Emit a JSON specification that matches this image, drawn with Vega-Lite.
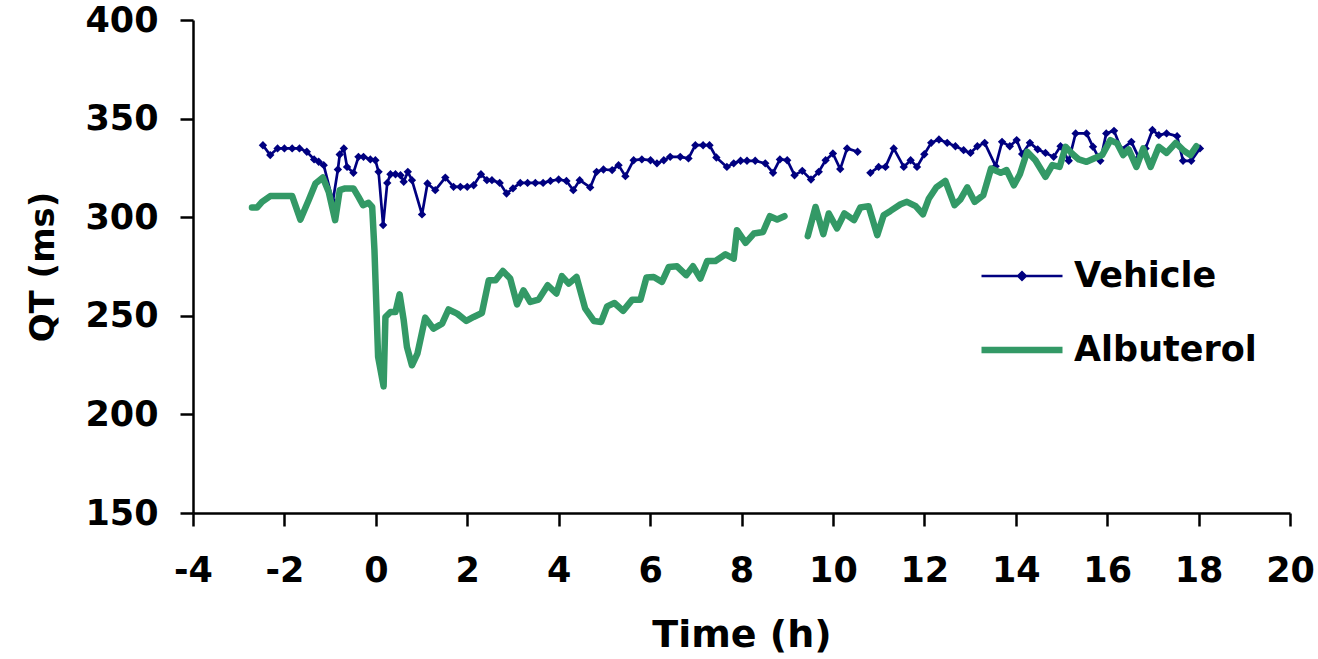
{
  "$schema": "https://vega.github.io/schema/vega-lite/v6.json",
  "autosize": "none",
  "width": 1097,
  "height": 493,
  "padding": {"left": 193, "top": 20, "right": 28, "bottom": 146},
  "background": "white",
  "config": {
    "view": {"stroke": null},
    "axis": {
      "grid": false,
      "domainColor": "black",
      "domainWidth": 2.5,
      "tickColor": "black",
      "tickWidth": 2.5,
      "tickSize": 13,
      "labelFont": "DejaVu Sans",
      "labelFontWeight": "bold",
      "labelFontSize": 35,
      "labelColor": "black",
      "titleFont": "DejaVu Sans",
      "titleFontWeight": "bold",
      "titleColor": "black"
    },
    "legend": {
      "labelFont": "DejaVu Sans",
      "labelFontWeight": "bold",
      "labelFontSize": 35,
      "labelColor": "black",
      "labelLimit": 500
    }
  },
  "datasets": {
    "qt": [
      {"t": -2.47, "qt": 336.5, "s": "Vehicle", "g": "V1"},
      {"t": -2.31, "qt": 331.5, "s": "Vehicle", "g": "V1"},
      {"t": -2.15, "qt": 334.9, "s": "Vehicle", "g": "V1"},
      {"t": -2.0, "qt": 334.9, "s": "Vehicle", "g": "V1"},
      {"t": -1.83, "qt": 334.9, "s": "Vehicle", "g": "V1"},
      {"t": -1.67, "qt": 334.9, "s": "Vehicle", "g": "V1"},
      {"t": -1.51, "qt": 333.2, "s": "Vehicle", "g": "V1"},
      {"t": -1.35, "qt": 329.3, "s": "Vehicle", "g": "V1"},
      {"t": -1.25, "qt": 328.1, "s": "Vehicle", "g": "V1"},
      {"t": -1.14, "qt": 326.4, "s": "Vehicle", "g": "V1"},
      {"t": -0.94, "qt": 308.1, "s": "Vehicle", "g": "V1"},
      {"t": -0.83, "qt": 324.2, "s": "Vehicle", "g": "V1"},
      {"t": -0.79, "qt": 331.8, "s": "Vehicle", "g": "V1"},
      {"t": -0.7, "qt": 334.9, "s": "Vehicle", "g": "V1"},
      {"t": -0.63, "qt": 325.5, "s": "Vehicle", "g": "V1"},
      {"t": -0.49, "qt": 322.5, "s": "Vehicle", "g": "V1"},
      {"t": -0.38, "qt": 330.6, "s": "Vehicle", "g": "V1"},
      {"t": -0.27, "qt": 330.6, "s": "Vehicle", "g": "V1"},
      {"t": -0.12, "qt": 329.3, "s": "Vehicle", "g": "V1"},
      {"t": -0.01, "qt": 328.9, "s": "Vehicle", "g": "V1"},
      {"t": 0.06, "qt": 323.0, "s": "Vehicle", "g": "V1"},
      {"t": 0.16, "qt": 296.0, "s": "Vehicle", "g": "V1"},
      {"t": 0.25, "qt": 317.4, "s": "Vehicle", "g": "V1"},
      {"t": 0.32, "qt": 321.8, "s": "Vehicle", "g": "V1"},
      {"t": 0.43, "qt": 321.8, "s": "Vehicle", "g": "V1"},
      {"t": 0.54, "qt": 321.3, "s": "Vehicle", "g": "V1"},
      {"t": 0.61, "qt": 318.0, "s": "Vehicle", "g": "V1"},
      {"t": 0.7, "qt": 323.0, "s": "Vehicle", "g": "V1"},
      {"t": 0.79, "qt": 318.8, "s": "Vehicle", "g": "V1"},
      {"t": 1.01, "qt": 301.4, "s": "Vehicle", "g": "V1"},
      {"t": 1.13, "qt": 317.1, "s": "Vehicle", "g": "V1"},
      {"t": 1.3, "qt": 313.7, "s": "Vehicle", "g": "V1"},
      {"t": 1.52, "qt": 320.1, "s": "Vehicle", "g": "V1"},
      {"t": 1.7, "qt": 315.4, "s": "Vehicle", "g": "V1"},
      {"t": 1.85, "qt": 315.4, "s": "Vehicle", "g": "V1"},
      {"t": 2.0, "qt": 315.4, "s": "Vehicle", "g": "V1"},
      {"t": 2.14, "qt": 316.2, "s": "Vehicle", "g": "V1"},
      {"t": 2.3, "qt": 321.8, "s": "Vehicle", "g": "V1"},
      {"t": 2.43, "qt": 318.8, "s": "Vehicle", "g": "V1"},
      {"t": 2.54, "qt": 318.8, "s": "Vehicle", "g": "V1"},
      {"t": 2.71, "qt": 317.4, "s": "Vehicle", "g": "V1"},
      {"t": 2.86, "qt": 312.0, "s": "Vehicle", "g": "V1"},
      {"t": 3.0, "qt": 314.6, "s": "Vehicle", "g": "V1"},
      {"t": 3.16, "qt": 317.4, "s": "Vehicle", "g": "V1"},
      {"t": 3.32, "qt": 317.4, "s": "Vehicle", "g": "V1"},
      {"t": 3.49, "qt": 317.4, "s": "Vehicle", "g": "V1"},
      {"t": 3.66, "qt": 317.4, "s": "Vehicle", "g": "V1"},
      {"t": 3.82, "qt": 318.4, "s": "Vehicle", "g": "V1"},
      {"t": 4.0, "qt": 319.1, "s": "Vehicle", "g": "V1"},
      {"t": 4.17, "qt": 318.4, "s": "Vehicle", "g": "V1"},
      {"t": 4.32, "qt": 313.7, "s": "Vehicle", "g": "V1"},
      {"t": 4.46, "qt": 318.8, "s": "Vehicle", "g": "V1"},
      {"t": 4.69, "qt": 315.1, "s": "Vehicle", "g": "V1"},
      {"t": 4.83, "qt": 323.0, "s": "Vehicle", "g": "V1"},
      {"t": 4.98, "qt": 324.2, "s": "Vehicle", "g": "V1"},
      {"t": 5.17, "qt": 323.9, "s": "Vehicle", "g": "V1"},
      {"t": 5.31, "qt": 326.4, "s": "Vehicle", "g": "V1"},
      {"t": 5.46, "qt": 320.8, "s": "Vehicle", "g": "V1"},
      {"t": 5.64, "qt": 328.9, "s": "Vehicle", "g": "V1"},
      {"t": 5.82, "qt": 329.3, "s": "Vehicle", "g": "V1"},
      {"t": 6.01, "qt": 328.9, "s": "Vehicle", "g": "V1"},
      {"t": 6.15, "qt": 327.3, "s": "Vehicle", "g": "V1"},
      {"t": 6.3, "qt": 328.9, "s": "Vehicle", "g": "V1"},
      {"t": 6.44, "qt": 330.6, "s": "Vehicle", "g": "V1"},
      {"t": 6.66, "qt": 330.6, "s": "Vehicle", "g": "V1"},
      {"t": 6.84, "qt": 329.8, "s": "Vehicle", "g": "V1"},
      {"t": 6.99, "qt": 336.5, "s": "Vehicle", "g": "V1"},
      {"t": 7.16, "qt": 336.5, "s": "Vehicle", "g": "V1"},
      {"t": 7.3, "qt": 336.5, "s": "Vehicle", "g": "V1"},
      {"t": 7.45, "qt": 330.3, "s": "Vehicle", "g": "V1"},
      {"t": 7.68, "qt": 325.5, "s": "Vehicle", "g": "V1"},
      {"t": 7.83, "qt": 327.3, "s": "Vehicle", "g": "V1"},
      {"t": 7.98, "qt": 328.6, "s": "Vehicle", "g": "V1"},
      {"t": 8.12, "qt": 328.6, "s": "Vehicle", "g": "V1"},
      {"t": 8.3, "qt": 328.6, "s": "Vehicle", "g": "V1"},
      {"t": 8.52, "qt": 327.3, "s": "Vehicle", "g": "V1"},
      {"t": 8.69, "qt": 322.5, "s": "Vehicle", "g": "V1"},
      {"t": 8.84, "qt": 329.3, "s": "Vehicle", "g": "V1"},
      {"t": 9.0, "qt": 328.9, "s": "Vehicle", "g": "V1"},
      {"t": 9.16, "qt": 321.3, "s": "Vehicle", "g": "V1"},
      {"t": 9.33, "qt": 323.5, "s": "Vehicle", "g": "V1"},
      {"t": 9.52, "qt": 319.1, "s": "Vehicle", "g": "V1"},
      {"t": 9.69, "qt": 323.0, "s": "Vehicle", "g": "V1"},
      {"t": 9.84, "qt": 328.9, "s": "Vehicle", "g": "V1"},
      {"t": 10.0, "qt": 332.3, "s": "Vehicle", "g": "V1"},
      {"t": 10.16, "qt": 324.4, "s": "Vehicle", "g": "V1"},
      {"t": 10.31, "qt": 334.9, "s": "Vehicle", "g": "V1"},
      {"t": 10.54, "qt": 333.2, "s": "Vehicle", "g": "V1"},
      {"t": 10.82, "qt": 322.5, "s": "Vehicle", "g": "V2"},
      {"t": 11.0, "qt": 325.5, "s": "Vehicle", "g": "V2"},
      {"t": 11.15, "qt": 325.5, "s": "Vehicle", "g": "V2"},
      {"t": 11.33, "qt": 334.9, "s": "Vehicle", "g": "V2"},
      {"t": 11.55, "qt": 325.5, "s": "Vehicle", "g": "V2"},
      {"t": 11.7, "qt": 328.9, "s": "Vehicle", "g": "V2"},
      {"t": 11.84, "qt": 325.5, "s": "Vehicle", "g": "V2"},
      {"t": 12.0, "qt": 331.9, "s": "Vehicle", "g": "V2"},
      {"t": 12.15, "qt": 337.7, "s": "Vehicle", "g": "V2"},
      {"t": 12.32, "qt": 339.4, "s": "Vehicle", "g": "V2"},
      {"t": 12.5, "qt": 337.7, "s": "Vehicle", "g": "V2"},
      {"t": 12.68, "qt": 336.0, "s": "Vehicle", "g": "V2"},
      {"t": 12.86, "qt": 334.0, "s": "Vehicle", "g": "V2"},
      {"t": 13.01, "qt": 332.6, "s": "Vehicle", "g": "V2"},
      {"t": 13.16, "qt": 336.0, "s": "Vehicle", "g": "V2"},
      {"t": 13.32, "qt": 337.7, "s": "Vehicle", "g": "V2"},
      {"t": 13.56, "qt": 325.9, "s": "Vehicle", "g": "V2"},
      {"t": 13.7, "qt": 338.2, "s": "Vehicle", "g": "V2"},
      {"t": 13.87, "qt": 336.0, "s": "Vehicle", "g": "V2"},
      {"t": 14.02, "qt": 339.1, "s": "Vehicle", "g": "V2"},
      {"t": 14.14, "qt": 332.0, "s": "Vehicle", "g": "V2"},
      {"t": 14.31, "qt": 337.7, "s": "Vehicle", "g": "V2"},
      {"t": 14.48, "qt": 334.4, "s": "Vehicle", "g": "V2"},
      {"t": 14.65, "qt": 332.6, "s": "Vehicle", "g": "V2"},
      {"t": 14.83, "qt": 330.6, "s": "Vehicle", "g": "V2"},
      {"t": 14.98, "qt": 336.0, "s": "Vehicle", "g": "V2"},
      {"t": 15.16, "qt": 328.6, "s": "Vehicle", "g": "V2"},
      {"t": 15.31, "qt": 342.5, "s": "Vehicle", "g": "V2"},
      {"t": 15.55, "qt": 342.5, "s": "Vehicle", "g": "V2"},
      {"t": 15.69, "qt": 335.7, "s": "Vehicle", "g": "V2"},
      {"t": 15.85, "qt": 328.6, "s": "Vehicle", "g": "V2"},
      {"t": 15.98, "qt": 342.5, "s": "Vehicle", "g": "V2"},
      {"t": 16.15, "qt": 343.8, "s": "Vehicle", "g": "V2"},
      {"t": 16.31, "qt": 334.4, "s": "Vehicle", "g": "V2"},
      {"t": 16.53, "qt": 338.2, "s": "Vehicle", "g": "V2"},
      {"t": 16.69, "qt": 330.3, "s": "Vehicle", "g": "V2"},
      {"t": 16.84, "qt": 334.9, "s": "Vehicle", "g": "V2"},
      {"t": 16.99, "qt": 344.2, "s": "Vehicle", "g": "V2"},
      {"t": 17.13, "qt": 341.6, "s": "Vehicle", "g": "V2"},
      {"t": 17.3, "qt": 342.5, "s": "Vehicle", "g": "V2"},
      {"t": 17.53, "qt": 341.1, "s": "Vehicle", "g": "V2"},
      {"t": 17.66, "qt": 328.6, "s": "Vehicle", "g": "V2"},
      {"t": 17.84, "qt": 328.6, "s": "Vehicle", "g": "V2"},
      {"t": 18.03, "qt": 334.9, "s": "Vehicle", "g": "V2"},
      {"t": -2.71, "qt": 304.9, "s": "Albuterol", "g": "A1"},
      {"t": -2.6, "qt": 304.9, "s": "Albuterol", "g": "A1"},
      {"t": -2.49, "qt": 307.8, "s": "Albuterol", "g": "A1"},
      {"t": -2.31, "qt": 310.7, "s": "Albuterol", "g": "A1"},
      {"t": -2.16, "qt": 310.7, "s": "Albuterol", "g": "A1"},
      {"t": -1.98, "qt": 310.7, "s": "Albuterol", "g": "A1"},
      {"t": -1.83, "qt": 310.7, "s": "Albuterol", "g": "A1"},
      {"t": -1.65, "qt": 298.8, "s": "Albuterol", "g": "A1"},
      {"t": -1.47, "qt": 308.6, "s": "Albuterol", "g": "A1"},
      {"t": -1.32, "qt": 317.1, "s": "Albuterol", "g": "A1"},
      {"t": -1.16, "qt": 320.1, "s": "Albuterol", "g": "A1"},
      {"t": -1.03, "qt": 312.8, "s": "Albuterol", "g": "A1"},
      {"t": -0.89, "qt": 298.5, "s": "Albuterol", "g": "A1"},
      {"t": -0.79, "qt": 313.7, "s": "Albuterol", "g": "A1"},
      {"t": -0.67, "qt": 314.6, "s": "Albuterol", "g": "A1"},
      {"t": -0.49, "qt": 314.6, "s": "Albuterol", "g": "A1"},
      {"t": -0.38, "qt": 310.3, "s": "Albuterol", "g": "A1"},
      {"t": -0.28, "qt": 306.1, "s": "Albuterol", "g": "A1"},
      {"t": -0.16, "qt": 307.3, "s": "Albuterol", "g": "A1"},
      {"t": -0.08, "qt": 305.2, "s": "Albuterol", "g": "A1"},
      {"t": -0.03, "qt": 283.2, "s": "Albuterol", "g": "A1"},
      {"t": 0.05, "qt": 229.1, "s": "Albuterol", "g": "A1"},
      {"t": 0.17, "qt": 214.2, "s": "Albuterol", "g": "A1"},
      {"t": 0.21, "qt": 249.4, "s": "Albuterol", "g": "A1"},
      {"t": 0.32, "qt": 251.9, "s": "Albuterol", "g": "A1"},
      {"t": 0.43, "qt": 251.9, "s": "Albuterol", "g": "A1"},
      {"t": 0.52, "qt": 260.9, "s": "Albuterol", "g": "A1"},
      {"t": 0.61, "qt": 247.7, "s": "Albuterol", "g": "A1"},
      {"t": 0.68, "qt": 234.2, "s": "Albuterol", "g": "A1"},
      {"t": 0.79, "qt": 224.9, "s": "Albuterol", "g": "A1"},
      {"t": 0.91, "qt": 230.8, "s": "Albuterol", "g": "A1"},
      {"t": 1.08, "qt": 249.1, "s": "Albuterol", "g": "A1"},
      {"t": 1.26, "qt": 243.5, "s": "Albuterol", "g": "A1"},
      {"t": 1.45, "qt": 246.0, "s": "Albuterol", "g": "A1"},
      {"t": 1.59, "qt": 253.2, "s": "Albuterol", "g": "A1"},
      {"t": 1.78, "qt": 251.1, "s": "Albuterol", "g": "A1"},
      {"t": 1.98, "qt": 247.4, "s": "Albuterol", "g": "A1"},
      {"t": 2.14, "qt": 249.4, "s": "Albuterol", "g": "A1"},
      {"t": 2.32, "qt": 251.4, "s": "Albuterol", "g": "A1"},
      {"t": 2.47, "qt": 268.0, "s": "Albuterol", "g": "A1"},
      {"t": 2.62, "qt": 268.0, "s": "Albuterol", "g": "A1"},
      {"t": 2.78, "qt": 272.7, "s": "Albuterol", "g": "A1"},
      {"t": 2.94, "qt": 268.9, "s": "Albuterol", "g": "A1"},
      {"t": 3.09, "qt": 255.8, "s": "Albuterol", "g": "A1"},
      {"t": 3.23, "qt": 262.9, "s": "Albuterol", "g": "A1"},
      {"t": 3.38, "qt": 257.0, "s": "Albuterol", "g": "A1"},
      {"t": 3.56, "qt": 258.2, "s": "Albuterol", "g": "A1"},
      {"t": 3.76, "qt": 265.5, "s": "Albuterol", "g": "A1"},
      {"t": 3.95, "qt": 261.3, "s": "Albuterol", "g": "A1"},
      {"t": 4.07, "qt": 270.1, "s": "Albuterol", "g": "A1"},
      {"t": 4.22, "qt": 266.3, "s": "Albuterol", "g": "A1"},
      {"t": 4.39, "qt": 269.7, "s": "Albuterol", "g": "A1"},
      {"t": 4.58, "qt": 253.7, "s": "Albuterol", "g": "A1"},
      {"t": 4.77, "qt": 247.4, "s": "Albuterol", "g": "A1"},
      {"t": 4.93, "qt": 246.9, "s": "Albuterol", "g": "A1"},
      {"t": 5.06, "qt": 254.8, "s": "Albuterol", "g": "A1"},
      {"t": 5.22, "qt": 256.5, "s": "Albuterol", "g": "A1"},
      {"t": 5.41, "qt": 252.5, "s": "Albuterol", "g": "A1"},
      {"t": 5.61, "qt": 258.2, "s": "Albuterol", "g": "A1"},
      {"t": 5.79, "qt": 258.2, "s": "Albuterol", "g": "A1"},
      {"t": 5.92, "qt": 269.4, "s": "Albuterol", "g": "A1"},
      {"t": 6.08, "qt": 269.7, "s": "Albuterol", "g": "A1"},
      {"t": 6.26, "qt": 267.2, "s": "Albuterol", "g": "A1"},
      {"t": 6.41, "qt": 274.8, "s": "Albuterol", "g": "A1"},
      {"t": 6.59, "qt": 275.1, "s": "Albuterol", "g": "A1"},
      {"t": 6.79, "qt": 270.6, "s": "Albuterol", "g": "A1"},
      {"t": 6.94, "qt": 275.1, "s": "Albuterol", "g": "A1"},
      {"t": 7.1, "qt": 268.9, "s": "Albuterol", "g": "A1"},
      {"t": 7.25, "qt": 277.8, "s": "Albuterol", "g": "A1"},
      {"t": 7.43, "qt": 277.8, "s": "Albuterol", "g": "A1"},
      {"t": 7.65, "qt": 281.2, "s": "Albuterol", "g": "A1"},
      {"t": 7.83, "qt": 279.0, "s": "Albuterol", "g": "A1"},
      {"t": 7.9, "qt": 293.4, "s": "Albuterol", "g": "A1"},
      {"t": 8.09, "qt": 287.0, "s": "Albuterol", "g": "A1"},
      {"t": 8.27, "qt": 291.7, "s": "Albuterol", "g": "A1"},
      {"t": 8.47, "qt": 292.5, "s": "Albuterol", "g": "A1"},
      {"t": 8.62, "qt": 300.5, "s": "Albuterol", "g": "A1"},
      {"t": 8.78, "qt": 298.8, "s": "Albuterol", "g": "A1"},
      {"t": 8.94, "qt": 300.5, "s": "Albuterol", "g": "A1"},
      {"t": 9.45, "qt": 290.4, "s": "Albuterol", "g": "A2"},
      {"t": 9.62, "qt": 305.2, "s": "Albuterol", "g": "A2"},
      {"t": 9.79, "qt": 291.4, "s": "Albuterol", "g": "A2"},
      {"t": 9.91, "qt": 301.9, "s": "Albuterol", "g": "A2"},
      {"t": 10.09, "qt": 294.3, "s": "Albuterol", "g": "A2"},
      {"t": 10.25, "qt": 301.9, "s": "Albuterol", "g": "A2"},
      {"t": 10.46, "qt": 298.5, "s": "Albuterol", "g": "A2"},
      {"t": 10.6, "qt": 304.9, "s": "Albuterol", "g": "A2"},
      {"t": 10.78, "qt": 305.6, "s": "Albuterol", "g": "A2"},
      {"t": 10.97, "qt": 290.9, "s": "Albuterol", "g": "A2"},
      {"t": 11.11, "qt": 301.0, "s": "Albuterol", "g": "A2"},
      {"t": 11.26, "qt": 303.2, "s": "Albuterol", "g": "A2"},
      {"t": 11.48, "qt": 306.6, "s": "Albuterol", "g": "A2"},
      {"t": 11.62, "qt": 307.8, "s": "Albuterol", "g": "A2"},
      {"t": 11.81, "qt": 305.6, "s": "Albuterol", "g": "A2"},
      {"t": 11.97, "qt": 301.5, "s": "Albuterol", "g": "A2"},
      {"t": 12.1, "qt": 309.5, "s": "Albuterol", "g": "A2"},
      {"t": 12.26, "qt": 315.1, "s": "Albuterol", "g": "A2"},
      {"t": 12.46, "qt": 318.4, "s": "Albuterol", "g": "A2"},
      {"t": 12.66, "qt": 306.1, "s": "Albuterol", "g": "A2"},
      {"t": 12.79, "qt": 309.0, "s": "Albuterol", "g": "A2"},
      {"t": 12.94, "qt": 315.1, "s": "Albuterol", "g": "A2"},
      {"t": 13.1, "qt": 307.8, "s": "Albuterol", "g": "A2"},
      {"t": 13.29, "qt": 311.2, "s": "Albuterol", "g": "A2"},
      {"t": 13.46, "qt": 324.7, "s": "Albuterol", "g": "A2"},
      {"t": 13.67, "qt": 322.5, "s": "Albuterol", "g": "A2"},
      {"t": 13.8, "qt": 323.9, "s": "Albuterol", "g": "A2"},
      {"t": 13.96, "qt": 316.2, "s": "Albuterol", "g": "A2"},
      {"t": 14.09, "qt": 321.8, "s": "Albuterol", "g": "A2"},
      {"t": 14.25, "qt": 333.2, "s": "Albuterol", "g": "A2"},
      {"t": 14.43, "qt": 328.9, "s": "Albuterol", "g": "A2"},
      {"t": 14.65, "qt": 320.5, "s": "Albuterol", "g": "A2"},
      {"t": 14.8, "qt": 326.4, "s": "Albuterol", "g": "A2"},
      {"t": 14.96, "qt": 325.5, "s": "Albuterol", "g": "A2"},
      {"t": 15.09, "qt": 335.7, "s": "Albuterol", "g": "A2"},
      {"t": 15.23, "qt": 332.3, "s": "Albuterol", "g": "A2"},
      {"t": 15.38, "qt": 329.3, "s": "Albuterol", "g": "A2"},
      {"t": 15.55, "qt": 328.1, "s": "Albuterol", "g": "A2"},
      {"t": 15.71, "qt": 329.8, "s": "Albuterol", "g": "A2"},
      {"t": 15.89, "qt": 331.5, "s": "Albuterol", "g": "A2"},
      {"t": 16.07, "qt": 339.1, "s": "Albuterol", "g": "A2"},
      {"t": 16.22, "qt": 337.4, "s": "Albuterol", "g": "A2"},
      {"t": 16.35, "qt": 331.5, "s": "Albuterol", "g": "A2"},
      {"t": 16.47, "qt": 334.4, "s": "Albuterol", "g": "A2"},
      {"t": 16.64, "qt": 325.5, "s": "Albuterol", "g": "A2"},
      {"t": 16.79, "qt": 334.9, "s": "Albuterol", "g": "A2"},
      {"t": 16.95, "qt": 325.5, "s": "Albuterol", "g": "A2"},
      {"t": 17.13, "qt": 335.7, "s": "Albuterol", "g": "A2"},
      {"t": 17.3, "qt": 332.6, "s": "Albuterol", "g": "A2"},
      {"t": 17.5, "qt": 337.7, "s": "Albuterol", "g": "A2"},
      {"t": 17.68, "qt": 333.7, "s": "Albuterol", "g": "A2"},
      {"t": 17.82, "qt": 331.5, "s": "Albuterol", "g": "A2"},
      {"t": 17.95, "qt": 336.0, "s": "Albuterol", "g": "A2"}
    ]
  },
  "data": {"name": "qt"},
  "encoding": {
    "x": {
      "field": "t", "type": "quantitative",
      "scale": {"domain": [-4, 20], "nice": false, "zero": false},
      "axis": {"values": [-4, -2, 0, 2, 4, 6, 8, 10, 12, 14, 16, 18, 20], "labelExpr": "datum.value < 0 ? '-' + abs(datum.value) : '' + datum.value", "title": "Time (h)", "titleFontSize": 38, "labelPadding": 27, "titlePadding": 28, "labelFlush": false}
    },
    "y": {
      "field": "qt", "type": "quantitative",
      "scale": {"domain": [150, 400], "nice": false, "zero": false},
      "axis": {"values": [150, 200, 250, 300, 350, 400], "title": "QT (ms)", "titleFontSize": 34, "labelPadding": 22, "titlePadding": 24}
    },
    "color": {
      "field": "s", "type": "nominal",
      "scale": {"domain": ["Vehicle", "Albuterol"], "range": ["#000080", "#339966"]},
      "legend": {
        "title": null, "orient": "none", "legendX": 785, "legendY": 214,
        "symbolType": "stroke", "symbolSize": 6561, "labelOffset": 8,
        "rowPadding": 12, "padding": 0,
        "encode": {
          "symbols": {
            "update": {
              "shape": {"signal": "datum.value === 'Vehicle' ? 'M-1,0L1,0M-0.09,0L0,-0.09L0.09,0L0,0.09Z' : 'stroke'"},
              "fill": {"signal": "datum.value === 'Vehicle' ? '#000080' : 'transparent'"}
            }
          }
        }
      }
    }
  },
  "layer": [
    {
      "transform": [{"filter": "datum.s === 'Vehicle'"}],
      "mark": {"type": "line", "strokeJoin": "round", "strokeCap": "round"},
      "encoding": {
        "detail": {"field": "g"},
        "strokeWidth": {"field": "s", "type": "nominal", "scale": {"domain": ["Vehicle", "Albuterol"], "range": [2.7, 6.5]}}
      }
    },
    {
      "transform": [{"filter": "datum.s === 'Vehicle'"}],
      "mark": {"type": "point", "shape": "diamond", "filled": true, "size": 70, "opacity": 1},
      "encoding": {}
    },
    {
      "transform": [{"filter": "datum.s === 'Albuterol'"}],
      "mark": {"type": "line", "strokeJoin": "round", "strokeCap": "round"},
      "encoding": {
        "detail": {"field": "g"},
        "strokeWidth": {"field": "s", "type": "nominal", "scale": {"domain": ["Vehicle", "Albuterol"], "range": [2.7, 6.5]}}
      }
    }
  ]
}
